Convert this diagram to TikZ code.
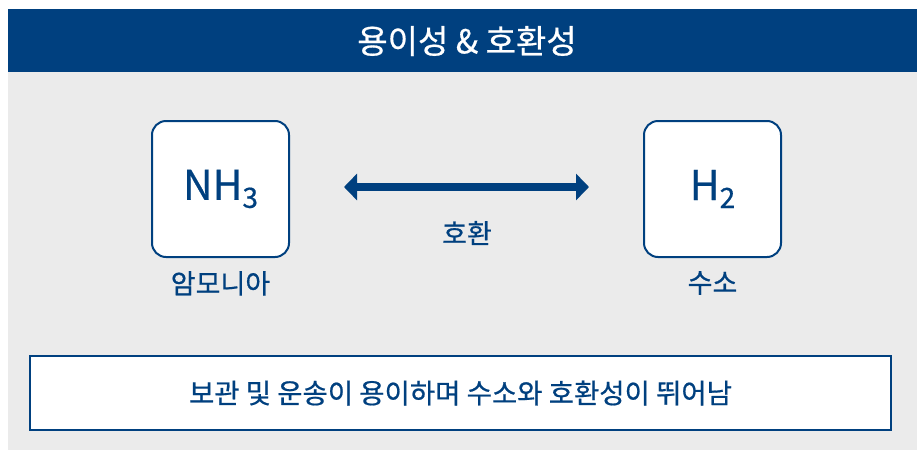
\documentclass[tikz,border=0pt]{standalone}
\usepackage{fontspec}
\setmainfont{Noto Sans CJK KR}[FakeBold=0.6]
\usepackage{tikz}
\usetikzlibrary{positioning,arrows.meta}
\definecolor{navy}{HTML}{00407F}
\definecolor{panelgray}{HTML}{EBEBEB}
\newcommand{\molsub}[1]{\raisebox{-8pt}{\fontsize{28}{28}\selectfont #1}}

\begin{document}
\begin{tikzpicture}[x=1pt,y=-1pt,
  molbox/.style={draw=navy,line width=2pt,fill=white,rounded corners=14pt,
    minimum width=137pt,minimum height=136pt,inner sep=0pt,text=navy,
    font=\fontsize{41}{41}\selectfont},
  caption/.style={text=navy,inner sep=0pt,font=\fontsize{27}{27}\selectfont},
  swap/.style={draw=navy,line width=8pt,
    arrows={Triangle[length=13pt,width=26pt]-Triangle[length=13pt,width=26pt]}}]
\pgfmathsetmacro{\gap}{54}
\useasboundingbox (0,0) rectangle (917,450);
\fill[panelgray] (8,9) rectangle (917,450);
\fill[navy] (8,9) rectangle (917,72);
\node[inner sep=0pt,text=white,font=\fontsize{33}{33}\selectfont] (title) at (467,41)
  {용이성 \& 호환성};
\node[molbox] (nh3) at (220.5,189) {NH\molsub{3}};
\node[molbox] (h2) at (712.5,189) {H\molsub{2}};
\node[caption,below=13pt of nh3] (nh3name) {암모니아};
\node[caption,below=13pt of h2] (h2name) {수소};
\draw[swap,transform canvas={yshift=2pt},shorten <=\gap pt,shorten >=\gap pt] (nh3) -- (h2);
\node[caption] (swapname) at (467,233) {호환};
\node[draw=navy,line width=2pt,fill=white,minimum width=861pt,minimum height=74pt,
  inner sep=0pt,text=navy,font=\fontsize{27.5}{27.5}\selectfont] (summary) at (460.5,393)
  {보관 및 운송이 용이하며 수소와 호환성이 뛰어남};
\end{tikzpicture}
\end{document}
